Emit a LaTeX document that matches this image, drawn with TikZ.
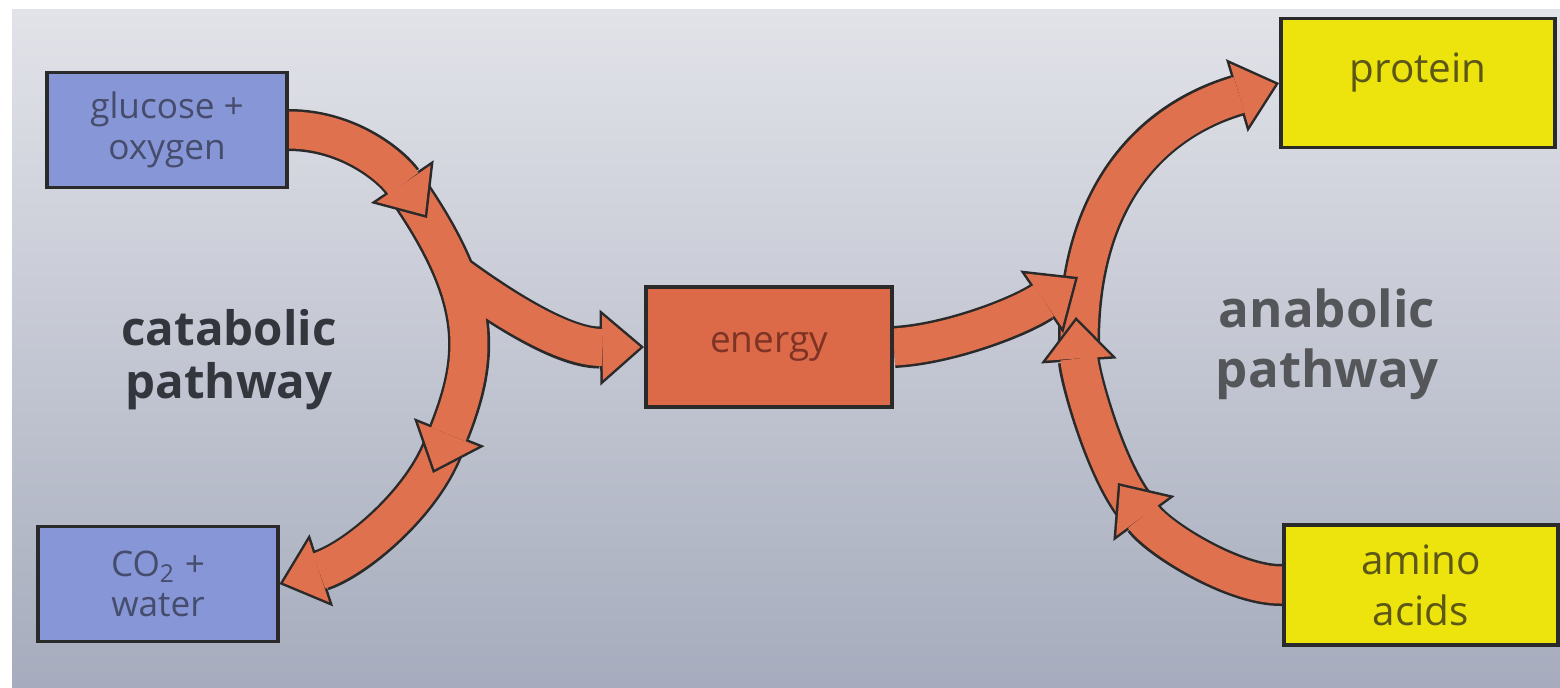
\documentclass[tikz,border=0pt]{standalone}
\usepackage{fontspec}
\setmainfont{Open Sans}
\usetikzlibrary{arrows.meta,calc}
\definecolor{bgtop}{HTML}{E2E3E9}
\definecolor{bgmid}{HTML}{D4DEDF}
\definecolor{bgbot}{HTML}{A6ACBD}
\definecolor{catblue}{HTML}{8796D6}
\definecolor{anayel}{HTML}{EDE40E}
\definecolor{enorange}{HTML}{DC6A49}
\definecolor{bandor}{HTML}{E0714E}
\definecolor{rim}{HTML}{2B2A2A}
\definecolor{bluetext}{HTML}{454C6C}
\definecolor{yeltext}{HTML}{5C5716}
\definecolor{entext}{HTML}{7E3325}
\definecolor{cattext}{HTML}{34363E}
\definecolor{anatext}{HTML}{55565A}
\pgfdeclarelayer{photo}
\pgfdeclarelayer{bands}
\pgfsetlayers{photo,bands,main}
% one fat arrow = dark rim underneath, orange body on top
\newcommand\fatarrow[1]{\draw[rimband] #1; \draw[fillband] #1;}

\begin{document}
\begin{tikzpicture}[x=0.01cm,y=-0.01cm,
  box/.style={draw=rim,line width=1.1pt,align=center,inner sep=2pt},
  catbox/.style={box,fill=catblue,text=bluetext,minimum width=2.39cm,
                 minimum height=1.15cm,font=\fontsize{10}{11.5}\selectfont},
  enbox/.style={box,fill=enorange,text=entext,minimum width=2.46cm,
                minimum height=1.2cm,font=\fontsize{10.5}{12}\selectfont},
  anabox/.style={box,fill=anayel,text=yeltext,minimum width=2.74cm,
                 minimum height=1.25cm,font=\fontsize{11.5}{14.5}\selectfont},
  pathname/.style={align=center,font=\bfseries\fontsize{13.5}{15}\selectfont},
  rimband/.style={draw=rim,line width=0.42cm,
                  -{Triangle[length=0.44cm,width=0.76cm,line width=0pt]}},
  fillband/.style={draw=bandor,line width=0.37cm,shorten >=0.038cm,
                   -{Triangle[length=0.377cm,width=0.651cm,line width=0pt]}}]

\useasboundingbox (0,0) rectangle (1560,688);

% ---------------- boxes -----------------------------------------------------
\node[catbox] (glu) at (167,130) {glucose +\\oxygen};
\node[catbox] (cow) at (158,584) {CO\textsubscript{2} +\\water};
\node[enbox] (energy) at (769,347) {energy};
\node[anabox,minimum height=1.29cm,text height=8pt,text depth=8pt]
  (protein) at (1418,83) {protein};
\node[anabox,minimum height=1.2cm] (amino) at (1421,585) {amino\\acids};

% ---------------- pathway names --------------------------------------------
\node[pathname,text=cattext] (cata) at (229,360) {catabolic\\pathway};
\node[pathname,text=anatext,font=\bfseries\fontsize{14.5}{17}\selectfont]
  (ana) at (1327,344) {anabolic\\pathway};

% ---------------- photo background -----------------------------------------
\begin{pgfonlayer}{photo}
  \fill[white] (0,0) rectangle (1560,688);
  \shade[top color=bgtop,middle color=bgmid,bottom color=bgbot]
    (12,10) rectangle (1560,688);
\end{pgfonlayer}

% ---------------- joints between arrow pieces ------------------------------
\coordinate (c1tip)   at (427,218);
\coordinate (c2start) at (412,196);
\coordinate (cfork)   at (452,272);
\coordinate (c2tip)   at (433,473);
\coordinate (c3start) at (443,448);
\coordinate (a1tip)   at (1118,483);
\coordinate (a2start) at (1134,505);
\coordinate (a2tip)   at (1076,317);
\coordinate (a3start) at (1079,345);
\coordinate (etip)    at (1078,277);

\begin{pgfonlayer}{bands}
% ---------------- catabolic pathway ----------------------------------------
\fatarrow{(c3start) .. controls (421,504) and (356,559) .. (cow.east)}
\draw[rimband]  (c2start) .. controls (482,300) and (479,357) .. (c2tip);
\draw[rimband]  (cfork) .. controls (490,300) and (560,348) .. (energy.west);
\draw[fillband] (c2start) .. controls (482,300) and (479,357) .. (c2tip);
\draw[fillband] (cfork) .. controls (490,300) and (560,348) .. (energy.west);
\fatarrow{(glu.east) .. controls (350,130) and (393,168) .. (c1tip)}

% ---------------- anabolic pathway -----------------------------------------
\fatarrow{(a3start) .. controls (1078,200) and (1148,122) .. (protein.west)}
\fatarrow{(a2start) .. controls (1104,465) and (1080,377) .. (a2tip)}
\fatarrow{(amino.west) .. controls (1235,586) and (1159,539) .. (a1tip)}
\fatarrow{(energy.east) .. controls (950,344) and (1021,316) .. (etip)}
\end{pgfonlayer}

\end{tikzpicture}
\end{document}
